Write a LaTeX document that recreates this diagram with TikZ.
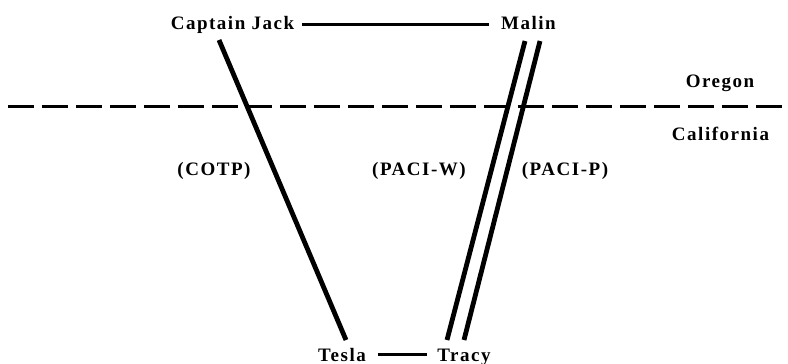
\documentclass[tikz,border=0pt]{standalone}
\usepackage{fontspec}
\setmainfont{Liberation Serif}[LetterSpace=8.0]
\begin{document}
\begin{tikzpicture}[x=1pt,y=-1pt,
  lab/.style={inner sep=0pt,anchor=base,font=\bfseries\fontsize{19}{21}\selectfont},
  tie/.style={line width=3pt},
  feed/.style={line width=4.8pt},
  border/.style={line width=3pt,dash pattern=on 26pt off 8pt}]
\useasboundingbox (0,0) rectangle (788,364);
\node[lab] (cj) at (232.5,30) {Captain Jack};
\node[lab] (malin) at (528.5,30) {Malin};
\node[lab] (tesla) at (342,361) {Tesla};
\node[lab] (tracy) at (464,361) {Tracy};
\node[lab] (or) at (720,87) {Oregon};
\node[lab] (ca) at (720.5,140) {California};
\node[lab] (cotp) at (214,175) {(COTP)};
\node[lab] (paciw) at (419,175) {(PACI-W)};
\node[lab] (pacip) at (565,175) {(PACI-P)};
\coordinate (bl) at (8,106);
\coordinate (br) at (788,106);
\coordinate (cjtop) at (219,40);
\coordinate (tsbot) at (346,340);
\coordinate (mw) at (525,41);
\coordinate (tw) at (447,340);
\coordinate (mp) at (540,41);
\coordinate (tp) at (464,340);
\draw[border] (bl) -- (br);
\draw[tie] ([xshift=8pt,yshift=6pt]cj.base east) -- ([xshift=-12pt,yshift=6pt]malin.base west);
\draw[tie] ([xshift=12pt,yshift=7pt]tesla.base east) -- ([xshift=-10pt,yshift=7pt]tracy.base west);
\draw[feed] (cjtop) -- (tsbot);
\draw[feed] (mw) -- (tw);
\draw[feed] (mp) -- (tp);
\end{tikzpicture}
\end{document}
